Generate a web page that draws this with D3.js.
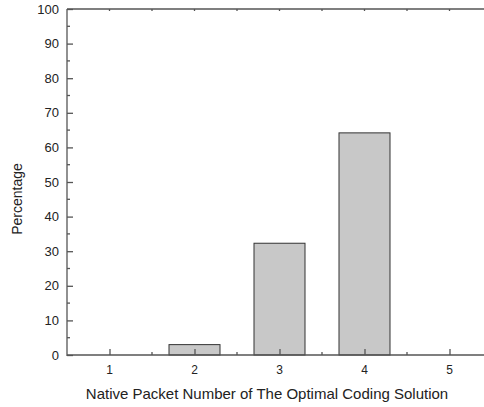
<!DOCTYPE html>
<html>
<head>
<meta charset="utf-8">
<script src="https://cdn.jsdelivr.net/npm/d3@7"></script>
<style>
  body { margin: 0; background: #fff; }
  text { font-family: "Liberation Sans", Arial, sans-serif; fill: #222; }
</style>
</head>
<body>
<script>
// packet numbers and share of optimal solutions
const categories = [1, 2, 3, 4, 5];
const percentages = [0, 3.0, 32.3, 64.2, 0];
const yTicks = [0, 10, 20, 30, 40, 50, 60, 70, 80, 90, 100];

let width = 484, height = 407;
let plotLeft = 67, plotTop = 9, plotBottom = 355;

const svg = d3.select("body").append("svg")
  .attr("width", width).attr("height", height);

let x = d3.scaleLinear().domain([0.5, 5.5]).range([plotLeft, plotLeft + 425]);
let y = d3.scaleLinear().domain([0, 100]).range([plotBottom, plotTop]);
let barW = x(1.3) - x(0.7);

const axisCol = "#555";

// bars
svg.append("g").selectAll("rect")
  .data(categories.map((c, i) => ({c: c, v: percentages[i]})).filter(d => d.v > 0))
  .enter().append("rect")
  .attr("x", d => x(d.c) - barW / 2)
  .attr("y", d => y(d.v))
  .attr("width", barW)
  .attr("height", d => y(0) - y(d.v))
  .attr("fill", "#c8c8c8")
  .attr("stroke", "#333")
  .attr("stroke-width", 1);

// left axis
let yAxis = d3.axisRight(y).tickValues(yTicks).tickSize(6).tickFormat("");
let ga = svg.append("g").attr("transform", `translate(${plotLeft},0)`).call(yAxis);
ga.select(".domain").remove();
let minorY = d3.range(5, 100, 10);
svg.append("g").selectAll("line").data(minorY).enter().append("line")
  .attr("x1", plotLeft).attr("x2", plotLeft + 3)
  .attr("y1", d => y(d)).attr("y2", d => y(d));
svg.append("g").selectAll("text").data(yTicks).enter().append("text")
  .attr("x", plotLeft - 8).attr("y", d => y(d) + 4.5)
  .attr("text-anchor", "end").attr("font-size", 13).text(d => d);
svg.append("line").attr("x1", plotLeft).attr("x2", plotLeft).attr("y1", plotTop).attr("y2", plotBottom + 1);

// bottom axis
let xAxis = d3.axisTop(x).tickValues(categories).tickSize(6).tickFormat("");
let gb = svg.append("g").attr("transform", `translate(0,${plotBottom})`).call(xAxis);
gb.select(".domain").remove();
svg.append("g").selectAll("line").data(d3.range(1.5, 5.5, 1)).enter().append("line")
  .attr("x1", d => x(d)).attr("x2", d => x(d))
  .attr("y1", plotBottom).attr("y2", plotBottom - 3);
svg.append("g").selectAll("text").data(categories).enter().append("text")
  .attr("x", d => x(d)).attr("y", plotBottom + 19)
  .attr("text-anchor", "middle").attr("font-size", 12).text(d => d);
svg.append("line").attr("x1", plotLeft).attr("x2", width).attr("y1", plotBottom).attr("y2", plotBottom);

// top axis
svg.append("line").attr("x1", plotLeft).attr("x2", width).attr("y1", plotTop).attr("y2", plotTop);
svg.append("g").selectAll("line").data(d3.range(1, 5.5, 0.5)).enter().append("line")
  .attr("x1", d => x(d)).attr("x2", d => x(d))
  .attr("y1", plotTop).attr("y2", plotTop + 2);

svg.selectAll("line").attr("stroke", axisCol).attr("stroke-width", 1.3);
svg.selectAll(".tick line").attr("stroke", axisCol).attr("stroke-width", 1.3);

// titles
svg.append("text").attr("x", 267).attr("y", 399)
  .attr("text-anchor", "middle").attr("font-size", 15)
  .text("Native Packet Number of The Optimal Coding Solution");
svg.append("text").attr("transform", "translate(22,199) rotate(-90)")
  .attr("text-anchor", "middle").attr("font-size", 14)
  .text("Percentage");
</script>
</body>
</html>
